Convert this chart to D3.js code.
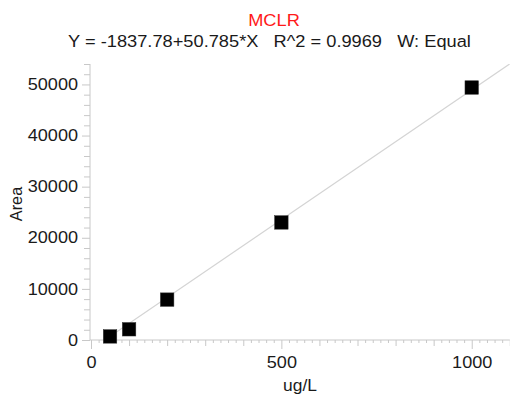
<!DOCTYPE html>
<html>
<head>
<meta charset="utf-8">
<script src="https://cdn.jsdelivr.net/npm/d3@7"></script>
<style>
  html, body { margin: 0; padding: 0; background: #fff; }
  svg { display: block; font-family: "Liberation Sans", Arial, sans-serif; }
</style>
</head>
<body>
<svg id="chart" width="510" height="396"></svg>
<script>
// Calibration standards for MCLR
const concentrations = [50, 100, 200, 500, 1000];   // ug/L
const areas = [700, 2100, 7900, 23000, 49400];      // peak area

// Linear fit reported for the calibration
const fitIntercept = -1837.78;
const fitSlope = 50.785;

const xMajorTicks = [0, 500, 1000];
const yMajorTicks = [0, 10000, 20000, 30000, 40000, 50000];

const titleText = "MCLR";
const equationText = "Y = -1837.78+50.785*X   R^2 = 0.9969   W: Equal";
const xTitle = "ug/L";
const yTitle = "Area";

const svg = d3.select("#chart");
const axisColor = "#c8c8c8";
const textColor = "#1a1a1a";
const fontSize = 16.3;
const widen = 1.11;   // horizontal text widening

// Widen horizontal text glyphs by a fixed factor
function stretch(sel, f) {
  sel.each(function () {
    const w = this.getComputedTextLength();
    d3.select(this).attr("textLength", w * f).attr("lengthAdjust", "spacingAndGlyphs");
  });
}

const x = d3.scaleLinear().domain([0, 1100]).range([91, 509.8]);
const y = d3.scaleLinear().domain([0, 54000]).range([340, 64]);

// Title lines
svg.append("text").attr("x", 274).attr("y", 26).attr("text-anchor", "middle")
  .attr("font-size", fontSize).attr("fill", "#ff1a1a").text(titleText)
  .call(stretch, 1.12);
svg.append("text").attr("x", 269.5).attr("y", 47).attr("text-anchor", "middle")
  .attr("font-size", fontSize).attr("fill", textColor)
  .style("white-space", "pre").text(equationText)
  .call(stretch, 1.12);

// X axis: minor ticks every 20, medium every 100, labelled every 500
const xMinor = d3.range(0, 1101, 20).filter(v => v % 100 !== 0);
const xMid = d3.range(0, 1101, 100).filter(v => v % 500 !== 0);

function styleAxis(g) {
  g.select(".domain").remove();
  g.selectAll(".tick line").attr("stroke", axisColor);
}

svg.append("g").attr("transform", "translate(0,340)")
  .call(d3.axisBottom(x).tickValues(xMinor).tickSize(3).tickFormat(""))
  .call(styleAxis);
svg.append("g").attr("transform", "translate(0,340)")
  .call(d3.axisBottom(x).tickValues(xMid).tickSize(6).tickFormat(""))
  .call(styleAxis);
svg.append("g").attr("transform", "translate(0,340)")
  .call(d3.axisBottom(x).tickValues(xMajorTicks).tickSize(9).tickPadding(7).tickFormat(d3.format("d")))
  .call(styleAxis)
  .call(g => g.selectAll(".tick text").attr("font-size", fontSize).attr("fill", textColor)
    .attr("font-family", "Liberation Sans, Arial, sans-serif").call(stretch, widen));

// Y axis: minor ticks every 2000, labelled every 10000
const yMinor = d3.range(0, 54001, 2000).filter(v => v % 10000 !== 0);
svg.append("g").attr("transform", "translate(90,0)")
  .call(d3.axisLeft(y).tickValues(yMinor).tickSize(6).tickFormat(""))
  .call(styleAxis);
svg.append("g").attr("transform", "translate(90,0)")
  .call(d3.axisLeft(y).tickValues(yMajorTicks).tickSize(8).tickPadding(4).tickFormat(d3.format("d")))
  .call(styleAxis)
  .call(g => g.selectAll(".tick text").attr("font-size", fontSize).attr("fill", textColor)
    .attr("font-family", "Liberation Sans, Arial, sans-serif").call(stretch, widen));

// Axis lines
svg.append("line").attr("x1", 90).attr("x2", 90).attr("y1", y(54000)).attr("y2", 340)
  .attr("stroke", axisColor);
svg.append("line").attr("x1", 90).attr("x2", x(1100)).attr("y1", 340).attr("y2", 340)
  .attr("stroke", axisColor);

// Axis titles
svg.append("text").attr("x", 300).attr("y", 391).attr("text-anchor", "middle")
  .attr("font-size", fontSize).attr("fill", textColor).text(xTitle)
  .call(stretch, 1.07);
svg.append("text").attr("transform", "translate(22,204) rotate(-90)").attr("text-anchor", "middle")
  .attr("font-size", fontSize).attr("fill", textColor).text(yTitle);

// Fitted line, clipped to the plot area
svg.append("clipPath").attr("id", "plot-clip").append("rect")
  .attr("x", 90).attr("y", y(54000)).attr("width", x(1100) - 90).attr("height", 340 - y(54000));
const fitX = [0, 1100];
svg.append("path")
  .datum(fitX)
  .attr("clip-path", "url(#plot-clip)")
  .attr("fill", "none").attr("stroke", "#d4d4d4").attr("stroke-width", 1.2)
  .attr("d", d3.line().x(d => x(d)).y(d => y(fitIntercept + fitSlope * d)));

// Calibration points
const sz = 13.5;
svg.append("g").selectAll("rect")
  .data(concentrations.map((c, i) => ({ c, a: areas[i] })))
  .join("rect")
  .attr("x", d => x(d.c) - sz / 2)
  .attr("y", d => y(d.a) - sz / 2)
  .attr("width", sz).attr("height", sz)
  .attr("fill", "#000").attr("stroke", "#333").attr("stroke-width", 0.5);
</script>
</body>
</html>
